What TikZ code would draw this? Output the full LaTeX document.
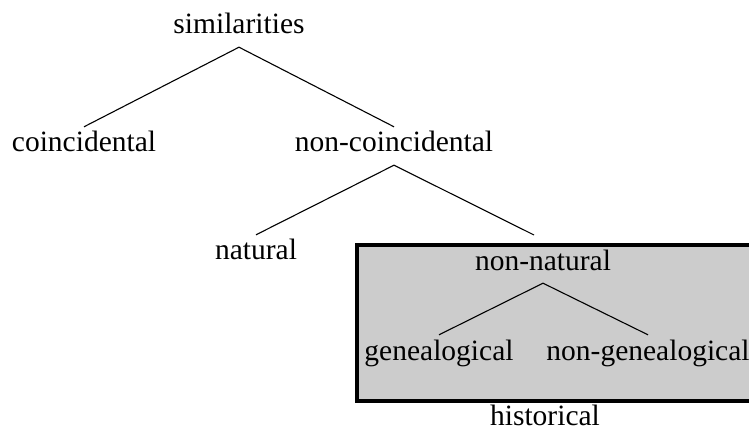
\documentclass[tikz,border=0pt]{standalone}
\usepackage{fontspec}
\setmainfont{Liberation Serif}
\usetikzlibrary{positioning}
\begin{document}
\begin{tikzpicture}[x=1pt, y=-1pt,
    word/.style={anchor=base, inner sep=0pt, text height=25pt, text depth=13pt,
                 font=\fontsize{29.5}{35}\selectfont},
    branch/.style={line width=1.1pt}]
      %\draw [dotted] (0,0) grid [step=50] (749,430);
      \useasboundingbox (0,0) rectangle (749,430);
      \fill [black!20] (357,245) rectangle (749,401);
      \draw [line width=3.5pt] (749,245) -- (357,245) -- (357,401) -- (749,401);
      \node [word]      (sim) at (239,  34) {similarities};
      \node [word]    (coinc) at ( 84, 152) {coincidental};
      \node [word] (noncoinc) at (394, 152) {non-coincidental};
      \node [word]      (nat) at (256, 260) {natural};
      \node [word]   (nonnat) at (543, 270) {non-natural};
      \node [word]      (gen) at (439, 360) {genealogical};
      \node [word]   (nongen) at (648, 360) {non-genealogical};
      \node [word]     (hist) at (545, 425) {historical};
      \coordinate    (boxtop) at (534, 235);
      \draw [branch] (sim.south) -- (coinc.north);
      \draw [branch] (sim.south) -- (noncoinc.north);
      \draw [branch] (noncoinc.south) -- (nat.north);
      \draw [branch] (noncoinc.south) -- (boxtop);
      \draw [branch] (nonnat.south) -- (gen.north);
      \draw [branch] (nonnat.south) -- (nongen.north);
\end{tikzpicture}
\end{document}
